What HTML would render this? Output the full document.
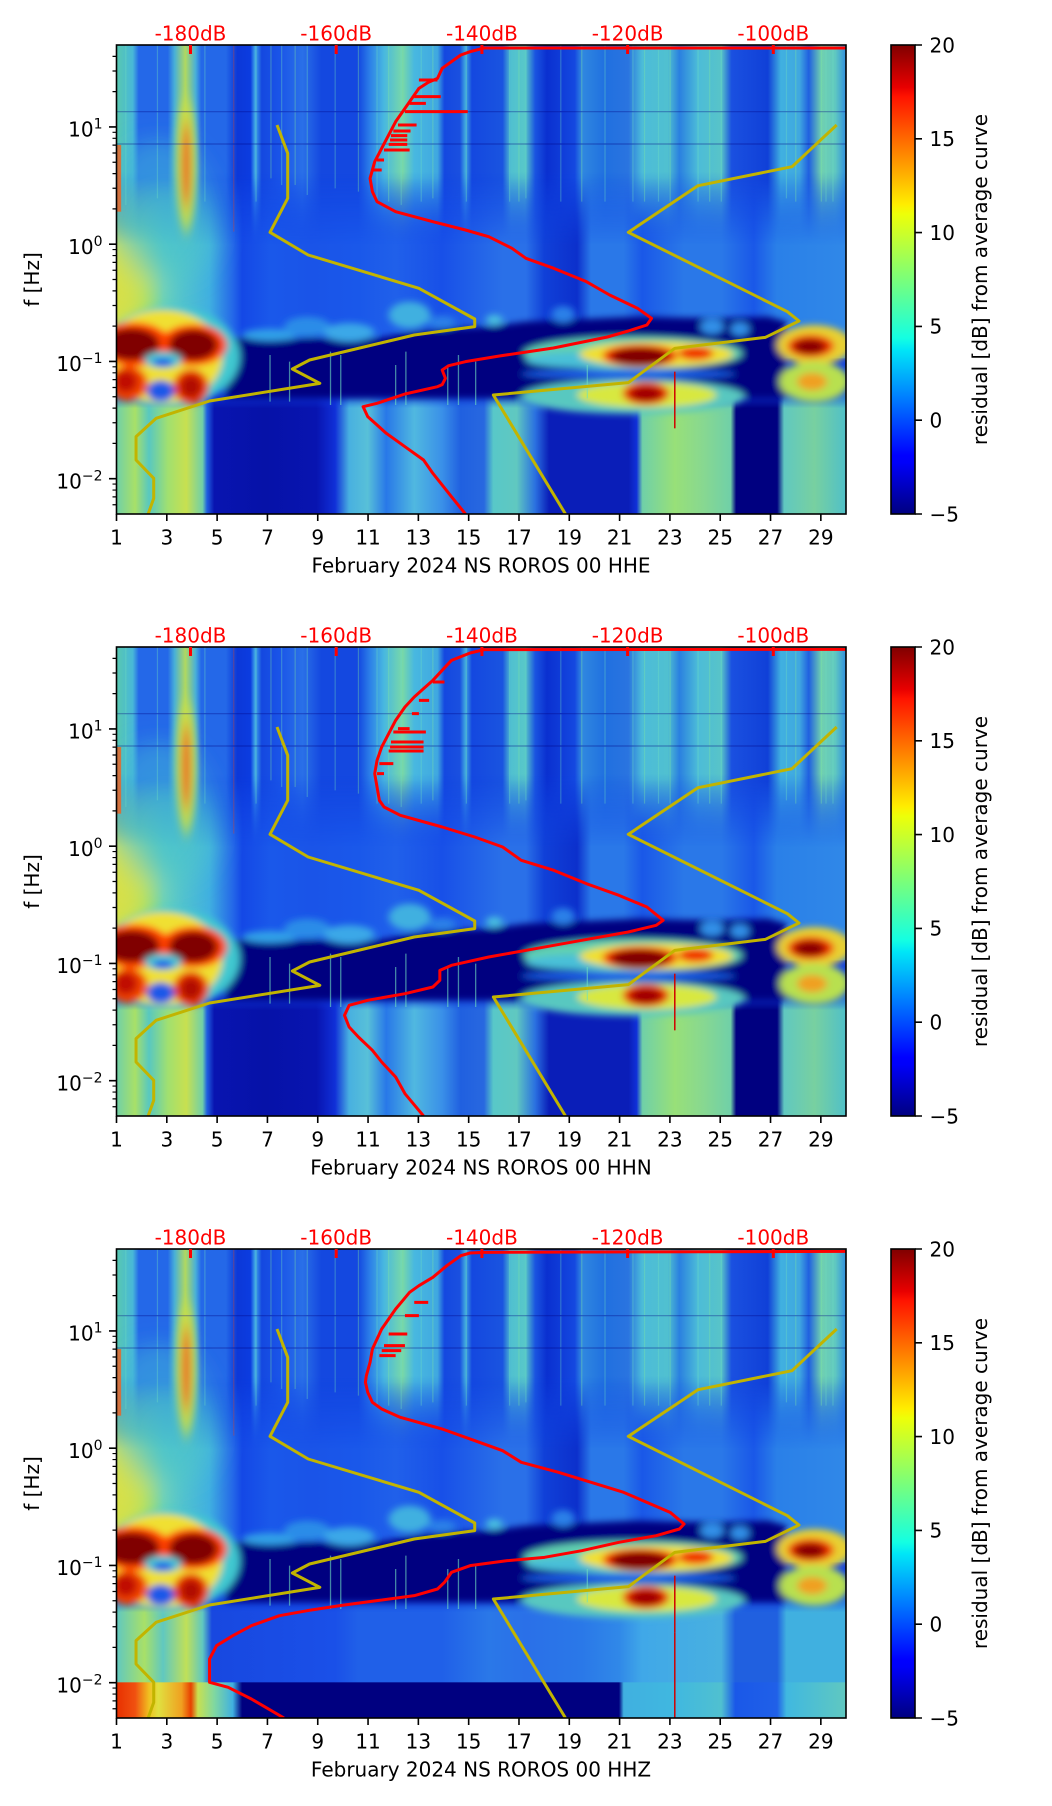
<!DOCTYPE html>
<html><head><meta charset="utf-8"><style>
html,body{margin:0;padding:0;background:#fff;width:1052px;height:1806px;overflow:hidden}
svg text{font-family:"DejaVu Sans","Liberation Sans",sans-serif;font-size:20px}
</style></head><body>
<svg xmlns="http://www.w3.org/2000/svg" width="1052" height="1806" viewBox="0 0 1052 1806">
<defs>
<linearGradient id="jet" x1="0" y1="0" x2="0" y2="1">
<stop offset="0" stop-color="#800000"/><stop offset="0.09" stop-color="#e80000"/><stop offset="0.11" stop-color="#ff1300"/><stop offset="0.34" stop-color="#ffed00"/><stop offset="0.36" stop-color="#eeff08"/><stop offset="0.5" stop-color="#7aff7a"/><stop offset="0.625" stop-color="#14ffe2"/><stop offset="0.65" stop-color="#00e6f7"/><stop offset="0.75" stop-color="#0080ff"/><stop offset="0.875" stop-color="#0000ff"/><stop offset="0.89" stop-color="#0000fa"/><stop offset="1" stop-color="#000080"/>
</linearGradient>
<linearGradient id="gUp" gradientUnits="userSpaceOnUse" x1="0" y1="0" x2="1568" y2="0">
<stop offset="0%" stop-color="#58c8b0"/><stop offset="2.23%" stop-color="#48b8d8"/><stop offset="3.06%" stop-color="#2468e8"/><stop offset="7.02%" stop-color="#2468e8"/><stop offset="7.97%" stop-color="#48b0d8"/><stop offset="9.44%" stop-color="#b0d860"/><stop offset="10.84%" stop-color="#48b0d8"/><stop offset="11.61%" stop-color="#2468e8"/><stop offset="14.99%" stop-color="#2468e8"/><stop offset="16.58%" stop-color="#0c38d8"/><stop offset="18.37%" stop-color="#0c3ce0"/><stop offset="19%" stop-color="#40a8e8"/><stop offset="19.9%" stop-color="#1448e0"/><stop offset="22.32%" stop-color="#1a54e8"/><stop offset="25.51%" stop-color="#2a70e8"/><stop offset="28.06%" stop-color="#1448e0"/><stop offset="33.16%" stop-color="#1448e0"/><stop offset="34.76%" stop-color="#2c80e8"/><stop offset="36.67%" stop-color="#48b8e0"/><stop offset="39.22%" stop-color="#78d8a8"/><stop offset="40.82%" stop-color="#48b8e0"/><stop offset="44%" stop-color="#40a8e0"/><stop offset="44.96%" stop-color="#1448e0"/><stop offset="47.07%" stop-color="#1a50e0"/><stop offset="47.83%" stop-color="#40a8e0"/><stop offset="48.72%" stop-color="#1448e0"/><stop offset="52.93%" stop-color="#1a54e0"/><stop offset="54.08%" stop-color="#50c0d0"/><stop offset="56%" stop-color="#58c8c8"/><stop offset="57.4%" stop-color="#1a54e0"/><stop offset="59%" stop-color="#0a30d0"/><stop offset="62.82%" stop-color="#1448e0"/><stop offset="63.78%" stop-color="#3088e0"/><stop offset="66.96%" stop-color="#2070e0"/><stop offset="70.15%" stop-color="#2a74e0"/><stop offset="72.07%" stop-color="#4cbcd8"/><stop offset="75.57%" stop-color="#50c0d0"/><stop offset="77.17%" stop-color="#2a80e0"/><stop offset="79.72%" stop-color="#4cbcd8"/><stop offset="82.91%" stop-color="#58c4c8"/><stop offset="84.31%" stop-color="#1a50e0"/><stop offset="89.29%" stop-color="#1040d8"/><stop offset="91.07%" stop-color="#40b0e0"/><stop offset="93.62%" stop-color="#40a8e0"/><stop offset="94.9%" stop-color="#2060e0"/><stop offset="96.62%" stop-color="#70d0b0"/><stop offset="98.53%" stop-color="#60c8c0"/><stop offset="100%" stop-color="#3090e0"/>
</linearGradient>
<linearGradient id="gMid" gradientUnits="userSpaceOnUse" x1="0" y1="0" x2="1568" y2="0">
<stop offset="0%" stop-color="#c0e058"/><stop offset="3.6%" stop-color="#90e080"/><stop offset="6.4%" stop-color="#60d0c0"/><stop offset="12.7%" stop-color="#40b0e0"/><stop offset="15.94%" stop-color="#2468e8"/><stop offset="17.22%" stop-color="#1448e6"/><stop offset="21.05%" stop-color="#1a58ea"/><stop offset="26.79%" stop-color="#1a54e8"/><stop offset="33.16%" stop-color="#1a58ea"/><stop offset="38.27%" stop-color="#2060ea"/><stop offset="44.64%" stop-color="#1850e8"/><stop offset="52.93%" stop-color="#2a70e8"/><stop offset="56.12%" stop-color="#2a70e8"/><stop offset="58.67%" stop-color="#1040d8"/><stop offset="63.14%" stop-color="#0c30cc"/><stop offset="65.05%" stop-color="#2a78e8"/><stop offset="69.52%" stop-color="#2a78e8"/><stop offset="72.07%" stop-color="#1a58e8"/><stop offset="77.81%" stop-color="#2a78e8"/><stop offset="82.91%" stop-color="#2a78e8"/><stop offset="87.37%" stop-color="#1a58e8"/><stop offset="90.56%" stop-color="#2a80e8"/><stop offset="100%" stop-color="#3088e8"/>
</linearGradient>
<linearGradient id="gLow" gradientUnits="userSpaceOnUse" x1="0" y1="0" x2="1568" y2="0">
<stop offset="0%" stop-color="#70d0a8"/><stop offset="2.55%" stop-color="#a8e068"/><stop offset="4.46%" stop-color="#58c8c0"/><stop offset="7.02%" stop-color="#a0e070"/><stop offset="9.57%" stop-color="#c8e050"/><stop offset="11.8%" stop-color="#70d0a8"/><stop offset="12.4%" stop-color="#2060e0"/><stop offset="13.4%" stop-color="#0814b0"/><stop offset="20.41%" stop-color="#0612a8"/><stop offset="27.4%" stop-color="#0814b0"/><stop offset="29.97%" stop-color="#1030d8"/><stop offset="31.89%" stop-color="#48b0e0"/><stop offset="34.44%" stop-color="#58c0d8"/><stop offset="36.99%" stop-color="#2878e8"/><stop offset="40.82%" stop-color="#50b8e0"/><stop offset="44.64%" stop-color="#3a90e8"/><stop offset="47.19%" stop-color="#2060e0"/><stop offset="50.38%" stop-color="#2868e0"/><stop offset="51.66%" stop-color="#58c8c8"/><stop offset="54.85%" stop-color="#60c8c0"/><stop offset="57.4%" stop-color="#2a70e0"/><stop offset="59.3%" stop-color="#0a1eb8"/><stop offset="70.2%" stop-color="#0a1eb8"/><stop offset="71.3%" stop-color="#1030d8"/><stop offset="72.1%" stop-color="#70d0a8"/><stop offset="76.53%" stop-color="#98e078"/><stop offset="80.36%" stop-color="#88d890"/><stop offset="84.18%" stop-color="#70d0a8"/><stop offset="84.95%" stop-color="#000080"/><stop offset="90.56%" stop-color="#000080"/><stop offset="91.52%" stop-color="#60c8c0"/><stop offset="95.66%" stop-color="#78d0a0"/><stop offset="100%" stop-color="#50c0c8"/>
</linearGradient>
<linearGradient id="gLow3" gradientUnits="userSpaceOnUse" x1="0" y1="0" x2="1568" y2="0">
<stop offset="0%" stop-color="#60c8c0"/><stop offset="3.83%" stop-color="#a8e068"/><stop offset="6.38%" stop-color="#60c8c0"/><stop offset="9.57%" stop-color="#c0e058"/><stop offset="11.8%" stop-color="#60c8c0"/><stop offset="13.07%" stop-color="#1848e0"/><stop offset="29.97%" stop-color="#1a50e8"/><stop offset="33.16%" stop-color="#2060e8"/><stop offset="44.64%" stop-color="#2060e8"/><stop offset="51.02%" stop-color="#2a78e8"/><stop offset="56.12%" stop-color="#2a70e8"/><stop offset="63.78%" stop-color="#2a78e8"/><stop offset="68.88%" stop-color="#3088e8"/><stop offset="72.07%" stop-color="#40a8e8"/><stop offset="82.91%" stop-color="#48b0e0"/><stop offset="84.82%" stop-color="#2060e0"/><stop offset="90.56%" stop-color="#2060e0"/><stop offset="91.84%" stop-color="#40b0e0"/><stop offset="100%" stop-color="#40b0e0"/>
</linearGradient>
<linearGradient id="gBot3" gradientUnits="userSpaceOnUse" x1="0" y1="0" x2="1568" y2="0">
<stop offset="0%" stop-color="#e83000"/><stop offset="2.55%" stop-color="#f05010"/><stop offset="4.46%" stop-color="#f0c020"/><stop offset="5.74%" stop-color="#e0e040"/><stop offset="8.93%" stop-color="#f0a020"/><stop offset="10.2%" stop-color="#e84000"/><stop offset="11.16%" stop-color="#c8e050"/><stop offset="13.39%" stop-color="#80d8a0"/><stop offset="15.94%" stop-color="#40b0e0"/><stop offset="17.22%" stop-color="#000080"/><stop offset="68.88%" stop-color="#000080"/><stop offset="69.52%" stop-color="#40b0e0"/><stop offset="76.53%" stop-color="#40b8e0"/><stop offset="82.91%" stop-color="#50c0d0"/><stop offset="84.82%" stop-color="#1a58e8"/><stop offset="90.56%" stop-color="#2060e8"/><stop offset="91.84%" stop-color="#40b8e0"/><stop offset="100%" stop-color="#60c8c0"/>
</linearGradient>
<linearGradient id="vUp" gradientUnits="userSpaceOnUse" x1="0" y1="380" x2="0" y2="620"><stop offset="0" stop-color="#fff"/><stop offset="1" stop-color="#000"/></linearGradient>
<linearGradient id="vMid" gradientUnits="userSpaceOnUse" x1="0" y1="400" x2="0" y2="600"><stop offset="0" stop-color="#000"/><stop offset="1" stop-color="#fff"/></linearGradient>
<linearGradient id="vLow" gradientUnits="userSpaceOnUse" x1="0" y1="1030" x2="0" y2="1090"><stop offset="0" stop-color="#000"/><stop offset="1" stop-color="#fff"/></linearGradient>
<mask id="mUp" maskUnits="userSpaceOnUse" x="0" y="0" width="1568" height="1407"><rect width="1568" height="1407" fill="url(#vUp)"/></mask>
<mask id="mMid" maskUnits="userSpaceOnUse" x="0" y="0" width="1568" height="1407"><rect width="1568" height="1407" fill="url(#vMid)"/></mask>
<mask id="mLow" maskUnits="userSpaceOnUse" x="0" y="0" width="1568" height="1407"><rect width="1568" height="1407" fill="url(#vLow)"/></mask>
<filter id="bl" x="-10%" y="-10%" width="120%" height="120%"><feGaussianBlur stdDeviation="8 10"/></filter>
<filter id="blBig" x="-30%" y="-30%" width="160%" height="160%"><feGaussianBlur stdDeviation="30 30"/></filter>
<filter id="blCol" x="-100%" y="-30%" width="300%" height="160%"><feGaussianBlur stdDeviation="8 25"/></filter>

<g id="specTop">
<rect width="1568" height="1407" fill="#0e40e4"/>
<rect y="0" width="1568" height="640" fill="url(#gUp)" mask="url(#mUp)"/>
<rect y="400" width="1568" height="540" fill="url(#gMid)" mask="url(#mMid)"/>
<g filter="url(#blBig)">
<ellipse cx="90" cy="470" rx="110" ry="190" fill="#40b8d8" opacity="0.5"/>
<ellipse cx="15" cy="720" rx="60" ry="130" fill="#e0e040" opacity="0.75"/>
<ellipse cx="110" cy="570" rx="100" ry="150" fill="#50c8c8" opacity="0.45"/>
</g>
<g filter="url(#blCol)">
<ellipse cx="150" cy="360" rx="22" ry="200" fill="#c8e048" opacity="0.9"/>
<ellipse cx="150" cy="360" rx="10" ry="130" fill="#f06020" opacity="0.85"/>
</g>
<rect x="0" y="300" width="10" height="200" fill="#f06020" opacity="0.8"/>
<g opacity="0.35">
<path vector-effect="non-scaling-stroke" stroke-width="1.2" stroke="#e04020" d="M252 0V560"/>
<path vector-effect="non-scaling-stroke" stroke-width="1.2" stroke="#70e0c0" d="M20 0V480M88 0V460M190 0V470M300 0V470M355 0V420M410 0V450M470 0V430M560 0V470M612 0V480M655 0V470M752 0V470M845 0V470M880 0V460M955 0V470M1050 0V470M1110 0V470M1165 0V470M1250 0V470M1300 0V470M1440 0V460M1525 0V470M1540 0V470"/>
<path vector-effect="non-scaling-stroke" stroke-width="1.2" stroke="#80e8a0" d="M332 0V400M384 0V420M520 0V440M585 0V470M680 0V460M865 0V470M1000 0V470M1135 0V470M1190 0V470M1275 0V470M1460 0V470M1515 0V470"/>
<path vector-effect="non-scaling-stroke" stroke-width="1.2" stroke="#000080" d="M0 297H1568M0 200H1568"/>
</g>
</g>

<g id="blobs">
<g filter="url(#bl)">
<path fill="#000080" d="M235 880L300 878L360 885L420 878L480 885L560 880L640 860L720 850L800 845L880 830L960 825L1040 820L1120 815L1200 818L1300 820L1400 815L1440 830L1440 1060L235 1060Z"/>
<ellipse cx="330" cy="870" rx="60" ry="18" fill="#30a0e8"/>
<ellipse cx="410" cy="845" rx="50" ry="30" fill="#2a8ce8"/>
<ellipse cx="500" cy="862" rx="55" ry="28" fill="#3aa8e8"/>
<ellipse cx="630" cy="810" rx="45" ry="40" fill="#40b0e0"/>
<ellipse cx="700" cy="832" rx="30" ry="20" fill="#2a80e8"/>
<ellipse cx="812" cy="825" rx="18" ry="16" fill="#48c0e0"/>
<ellipse cx="960" cy="808" rx="25" ry="25" fill="#2a80e8"/>
<ellipse cx="1280" cy="845" rx="25" ry="22" fill="#3090e8"/>
<ellipse cx="1340" cy="852" rx="20" ry="20" fill="#3090e8"/>
<ellipse cx="1110" cy="925" rx="235" ry="50" fill="#60d0b0"/>
<ellipse cx="990" cy="945" rx="110" ry="22" fill="#48c0d8"/>
<ellipse cx="1160" cy="928" rx="165" ry="38" fill="#f0e030"/>
<ellipse cx="1125" cy="932" rx="80" ry="34" fill="#f02800"/>
<ellipse cx="1125" cy="935" rx="62" ry="26" fill="#800000"/>
<ellipse cx="1245" cy="925" rx="38" ry="20" fill="#f03000"/>
<ellipse cx="1100" cy="987" rx="230" ry="14" fill="#1a60e8"/>
<ellipse cx="1110" cy="1055" rx="240" ry="52" fill="#58c8c0"/>
<ellipse cx="1140" cy="1050" rx="150" ry="38" fill="#d8e840"/>
<ellipse cx="1138" cy="1045" rx="50" ry="34" fill="#e82800"/>
<ellipse cx="1138" cy="1047" rx="34" ry="22" fill="#a00000"/>
<ellipse cx="1500" cy="900" rx="80" ry="60" fill="#e8d030"/>
<ellipse cx="1492" cy="903" rx="50" ry="34" fill="#f03000"/>
<ellipse cx="1490" cy="905" rx="34" ry="22" fill="#880000"/>
<ellipse cx="1500" cy="1010" rx="75" ry="60" fill="#b8e050"/>
<ellipse cx="1495" cy="1010" rx="32" ry="26" fill="#f0a020"/>
<ellipse cx="115" cy="935" rx="150" ry="150" fill="#40c8d0"/>
<ellipse cx="100" cy="935" rx="128" ry="140" fill="#f0e030"/>
<ellipse cx="38" cy="898" rx="78" ry="66" fill="#ff4000"/>
<ellipse cx="32" cy="898" rx="60" ry="48" fill="#800000"/>
<ellipse cx="165" cy="900" rx="72" ry="62" fill="#ff4000"/>
<ellipse cx="165" cy="900" rx="52" ry="46" fill="#800000"/>
<ellipse cx="100" cy="945" rx="40" ry="25" fill="#50c8d0"/>
<ellipse cx="100" cy="952" rx="22" ry="12" fill="#1850e8"/>
<ellipse cx="25" cy="1015" rx="42" ry="52" fill="#f04000"/>
<ellipse cx="160" cy="1025" rx="38" ry="52" fill="#e83000"/>
<ellipse cx="20" cy="1010" rx="24" ry="32" fill="#c01000"/>
<ellipse cx="160" cy="1025" rx="22" ry="32" fill="#b01000"/>
<ellipse cx="95" cy="1038" rx="30" ry="32" fill="#1a58e8"/>
</g>
<path vector-effect="non-scaling-stroke" stroke="#70e0c0" stroke-width="1.3" opacity="0.6" d="M330 930V1070M372 950V1070M460 920V1080M482 930V1080M600 960V1080M622 920V1080M712 960V1080M735 930V1080M772 950V1080M1012 960V1060"/>
<path vector-effect="non-scaling-stroke" stroke="#d00000" stroke-width="1.5" d="M1200 980V1150"/>
</g>

<g id="curves" fill="none" stroke-linejoin="round" stroke-width="3">
<polyline vector-effect="non-scaling-stroke" stroke="#c2b400" points="345,240 368,325 368,460 330,562 412,630 650,730 770,822 770,845 640,870 415,945 378,972 437,1015 200,1068 85,1120 42,1175 42,1245 80,1300 80,1360 68,1407"/>
<polyline vector-effect="non-scaling-stroke" stroke="#c2b400" points="1548,240 1452,365 1250,422 1100,562 1442,800 1467,828 1395,877 1200,910 1100,1013 810,1050 965,1407"/>
</g>

<g id="axes">
<rect x="116.5" y="0" width="729.5" height="469" fill="none" stroke="#000" stroke-width="1.6"/>
<path stroke="#000" stroke-width="1.6" d="M116.5 469v7M166.81 469v7M217.12 469v7M267.43 469v7M317.74 469v7M368.05 469v7M418.36 469v7M468.67 469v7M518.98 469v7M569.29 469v7M619.6 469v7M669.91 469v7M720.22 469v7M770.53 469v7M820.84 469v7M109 81.95h7.5M109 199.2h7.5M109 316.45h7.5M109 433.7h7.5"/>
<path stroke="#000" stroke-width="1.2" d="M112.5 46.66h4M112.5 26.01h4M112.5 11.36h4M112.5 163.91h4M112.5 143.26h4M112.5 128.61h4M112.5 117.25h4M112.5 107.97h4M112.5 100.12h4M112.5 93.32h4M112.5 87.32h4M112.5 281.16h4M112.5 260.51h4M112.5 245.86h4M112.5 234.5h4M112.5 225.22h4M112.5 217.37h4M112.5 210.57h4M112.5 204.57h4M112.5 398.41h4M112.5 377.76h4M112.5 363.11h4M112.5 351.75h4M112.5 342.47h4M112.5 334.62h4M112.5 327.82h4M112.5 321.82h4M112.5 459.72h4M112.5 451.87h4M112.5 445.07h4M112.5 439.07h4"/>
<g text-anchor="middle" fill="#000">
<text x="116.5" y="499.5">1</text><text x="166.81" y="499.5">3</text><text x="217.12" y="499.5">5</text><text x="267.43" y="499.5">7</text><text x="317.74" y="499.5">9</text><text x="368.05" y="499.5">11</text><text x="418.36" y="499.5">13</text><text x="468.67" y="499.5">15</text><text x="518.98" y="499.5">17</text><text x="569.29" y="499.5">19</text><text x="619.6" y="499.5">21</text><text x="669.91" y="499.5">23</text><text x="720.22" y="499.5">25</text><text x="770.53" y="499.5">27</text><text x="820.84" y="499.5">29</text>
</g>
<g text-anchor="end" fill="#000">
<text x="102.5" y="91.7">10<tspan font-size="14" dy="-8">1</tspan></text>
<text x="102.5" y="209">10<tspan font-size="14" dy="-8">0</tspan></text>
<text x="102.5" y="326.2">10<tspan font-size="14" dy="-8">−1</tspan></text>
<text x="102.5" y="443.5">10<tspan font-size="14" dy="-8">−2</tspan></text>
</g>
<text transform="translate(39 234.5) rotate(-90)" text-anchor="middle" fill="#000">f [Hz]</text>
<g fill="#ff0000" text-anchor="middle">
<text x="190.5" y="-4.5">-180dB</text><text x="336.2" y="-4.5">-160dB</text><text x="481.9" y="-4.5">-140dB</text><text x="627.6" y="-4.5">-120dB</text><text x="773.3" y="-4.5">-100dB</text>
<rect x="189" y="0" width="3" height="9"/><rect x="334.7" y="0" width="3" height="9"/><rect x="480.4" y="0" width="3" height="9"/><rect x="626.1" y="0" width="3" height="9"/><rect x="771.8" y="0" width="3" height="9"/>
</g>
<rect x="891" y="0" width="24" height="469" fill="url(#jet)" stroke="#000" stroke-width="1.6"/>
<path stroke="#000" stroke-width="1.6" d="M915 0h7M915 93.8h7M915 187.6h7M915 281.4h7M915 375.2h7M915 469h7"/>
<g fill="#000">
<text x="929.5" y="7.3">20</text><text x="929.5" y="101.1">15</text><text x="929.5" y="194.9">10</text><text x="929.5" y="288.7">5</text><text x="929.5" y="382.5">0</text><text x="929.5" y="476.3">−5</text>
</g>
<text transform="translate(987 234.5) rotate(-90)" text-anchor="middle" fill="#000">residual [dB] from average curve</text>
</g>
</defs>

<rect width="1052" height="1806" fill="#fff"/>

<!-- Plot 1 -->
<svg x="116.5" y="45" width="729.5" height="469" viewBox="0 0 1568 1407" preserveAspectRatio="none" overflow="hidden">
<use href="#specTop"/>
<rect y="1030" width="1568" height="377" fill="url(#gLow)" mask="url(#mLow)"/>
<use href="#blobs"/>
<use href="#curves"/>
<g fill="none" stroke="#ff0000" stroke-width="3" stroke-linejoin="round">
<polyline vector-effect="non-scaling-stroke" points="1568,9 790,9 760,20 740,30 700,70 690,100 670,112 650,130 635,160 620,190 600,230 585,270 570,310 555,350 545,400 550,440 560,470 600,500 680,530 750,555 800,575 850,610 880,640 940,670 1010,710 1060,750 1120,790 1150,820 1140,840 1100,858 1055,876 939,909 823,933 750,950 714,962 700,975 707,1000 700,1019 690,1025 620,1047 560,1075 530,1085 540,1115 580,1165 620,1205 660,1245 680,1285 720,1355 750,1407"/>
<path vector-effect="non-scaling-stroke" d="M650 105H690M640 155H697M630 175H665M620 200H755M605 240H645M595 258H632M590 272H625M588 285H625M585 298H625M575 315H630M560 345H575M552 375H570"/>
</g>
</svg>
<use href="#axes" y="45"/>
<text x="481" y="572.3" text-anchor="middle" fill="#000">February 2024 NS ROROS 00 HHE</text>

<!-- Plot 2 -->
<svg x="116.5" y="647" width="729.5" height="469" viewBox="0 0 1568 1407" preserveAspectRatio="none" overflow="hidden">
<use href="#specTop"/>
<rect y="1030" width="1568" height="377" fill="url(#gLow)" mask="url(#mLow)"/>
<use href="#blobs"/>
<use href="#curves"/>
<g fill="none" stroke="#ff0000" stroke-width="3" stroke-linejoin="round">
<polyline vector-effect="non-scaling-stroke" points="1568,7 790,8 760,18 720,40 700,70 680,100 660,125 640,150 620,180 600,220 585,260 570,300 560,340 555,380 560,420 565,460 575,480 610,505 700,540 770,570 830,600 870,640 940,670 1010,710 1080,745 1140,780 1175,820 1160,835 1100,855 1000,880 900,905 800,930 720,955 695,970 695,1000 680,1020 620,1040 540,1060 500,1075 490,1105 500,1140 520,1170 550,1210 570,1245 600,1290 620,1340 660,1407"/>
<path vector-effect="non-scaling-stroke" d="M680 105H705M650 160H672M635 200H650M605 245H630M595 255H665M590 285H660M588 300H660M585 312H660M565 350H595M560 380H575"/>
</g>
</svg>
<use href="#axes" y="647"/>
<text x="481" y="1174.3" text-anchor="middle" fill="#000">February 2024 NS ROROS 00 HHN</text>

<!-- Plot 3 -->
<svg x="116.5" y="1249" width="729.5" height="469" viewBox="0 0 1568 1407" preserveAspectRatio="none" overflow="hidden">
<use href="#specTop"/>
<rect y="1030" width="1568" height="377" fill="url(#gLow3)" mask="url(#mLow)"/>
<use href="#blobs"/>
<rect y="1300" width="1568" height="107" fill="url(#gBot3)"/>
<path vector-effect="non-scaling-stroke" stroke="#d00000" stroke-width="1.5" d="M1200 1150V1407"/>
<use href="#curves"/>
<g fill="none" stroke="#ff0000" stroke-width="3" stroke-linejoin="round">
<polyline vector-effect="non-scaling-stroke" points="1568,7 790,10 760,12 740,20 710,50 680,85 650,110 630,130 615,155 600,180 585,210 570,240 560,270 550,300 545,340 537,380 535,400 540,430 550,460 570,480 610,505 700,540 780,580 830,605 870,640 950,670 1020,700 1090,730 1140,760 1190,790 1220,825 1210,840 1160,860 1080,880 1000,905 920,925 840,935 760,950 720,970 705,1000 690,1020 640,1040 560,1055 480,1070 410,1085 350,1100 290,1130 250,1160 215,1190 200,1230 200,1300 240,1315 290,1350 360,1407"/>
<path vector-effect="non-scaling-stroke" d="M640 160H670M620 200H650M585 255H625M575 290H620M570 305H612M565 320H600"/>
</g>
</svg>
<use href="#axes" y="1249"/>
<text x="481" y="1776.3" text-anchor="middle" fill="#000">February 2024 NS ROROS 00 HHZ</text>
</svg>
</body></html>
